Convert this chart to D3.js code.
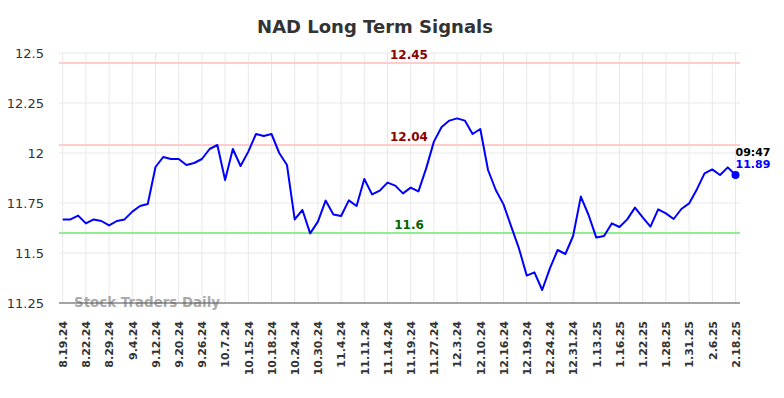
<!DOCTYPE html>
<html>
<head>
<meta charset="utf-8">
<script src="https://cdn.jsdelivr.net/npm/d3@7"></script>
<style>
	body { margin: 0; background: #fff; }
	text { font-family: "DejaVu Sans", sans-serif; }
</style>
</head>
<body>
<div id="chart"></div>
<script>
// tick labels, one every third point
const tickLabels = ['8.19.24', '8.22.24', '8.29.24', '9.4.24', '9.12.24', '9.20.24', '9.26.24', '10.7.24',
	'10.15.24', '10.18.24', '10.24.24', '10.30.24', '11.4.24', '11.11.24', '11.14.24', '11.19.24',
	'11.27.24', '12.3.24', '12.10.24', '12.16.24', '12.19.24', '12.24.24', '12.31.24', '1.13.25',
	'1.16.25', '1.22.25', '1.28.25', '1.31.25', '2.6.25', '2.18.25']

const prices = [11.668, 11.668, 11.687, 11.648, 11.668, 11.66, 11.638, 11.66, 11.668, 11.707,
	11.735, 11.745, 11.93, 11.98, 11.97, 11.97, 11.94, 11.95, 11.97, 12.02,
	12.04, 11.865, 12.02, 11.935, 12.007, 12.095, 12.085, 12.095, 12.0, 11.94,
	11.668, 11.715, 11.598, 11.657, 11.762, 11.693, 11.685, 11.763, 11.735, 11.87,
	11.793, 11.812, 11.852, 11.837, 11.798, 11.827, 11.808, 11.923, 12.057, 12.13,
	12.162, 12.173, 12.162, 12.095, 12.12, 11.915, 11.815, 11.743, 11.632, 11.523,
	11.387, 11.403, 11.315, 11.423, 11.515, 11.495, 11.585, 11.782, 11.69, 11.577,
	11.585, 11.648, 11.63, 11.668, 11.727, 11.678, 11.632, 11.718, 11.698, 11.67,
	11.72, 11.748, 11.818, 11.898, 11.918, 11.89, 11.928, 11.89]

const yTicks = [11.25, 11.5, 11.75, 12, 12.25, 12.5]
const signalLevels = [12.45, 12.04, 11.6]
const signalKinds = ['high', 'high', 'low']
const lastTime = '09:47'

const width = 784, height = 398
const m = { left: 59, right: 740, top: 53, bottom: 303 }

const svg = d3.select('#chart').append('svg')
	.attr('width', width)
	.attr('height', height)

const x = d3.scaleLinear()
	.domain([0, prices.length - 1])
	.range([62.7, 735.5])
const y = d3.scaleLinear()
	.domain([11.25, 12.5])
	.range([m.bottom, m.top])

const tickIdx = tickLabels.map((d, i) => i * 3)

// grid
svg.append('g')
	.selectAll('line')
	.data(tickIdx)
	.enter().append('line')
		.attr('x1', (d) => x(d))
		.attr('x2', (d) => x(d))
		.attr('y1', m.top)
		.attr('y2', m.bottom)
		.attr('stroke', '#e8e8e8')
svg.append('g')
	.selectAll('line')
	.data(yTicks)
	.enter().append('line')
		.attr('x1', m.left)
		.attr('x2', m.right)
		.attr('y1', (d) => y(d))
		.attr('y2', (d) => y(d))
		.attr('stroke', '#e8e8e8')

// y axis labels
const yAxis = svg.append('g')
	.attr('transform', 'translate(' + m.left + ',0)')
	.call(d3.axisLeft(y).tickValues(yTicks).tickSize(0).tickPadding(15).tickFormat(d3.format('')))
yAxis.select('.domain').remove()
yAxis.selectAll('text')
	.attr('font-size', '13px')
	.attr('fill', '#333')
	.style('font-family', '"DejaVu Sans", sans-serif')

// x axis labels
const xAxis = svg.append('g')
	.attr('transform', 'translate(0,' + m.bottom + ')')
	.call(d3.axisBottom(x).tickValues(tickIdx).tickSize(0).tickFormat((d, i) => tickLabels[i]))
xAxis.select('.domain').remove()
xAxis.selectAll('text')
	.attr('transform', 'rotate(-90)')
	.attr('text-anchor', 'end')
	.attr('x', -18)
	.attr('y', 0)
	.attr('dy', '0.35em')
	.attr('font-size', '11px')
	.attr('font-weight', 'bold')
	.attr('fill', '#333')
	.style('font-family', '"DejaVu Sans", sans-serif')

// signal lines
svg.append('g')
	.selectAll('line')
	.data(signalLevels)
	.enter().append('line')
		.attr('x1', m.left)
		.attr('x2', m.right)
		.attr('y1', (d) => y(d))
		.attr('y2', (d) => y(d))
		.attr('stroke', (d, i) => signalKinds[i] === 'high' ? '#ffcccc' : '#90ee90')
		.attr('stroke-width', 2)
svg.append('g')
	.selectAll('text')
	.data(signalLevels)
	.enter().append('text')
		.text((d) => d)
		.attr('x', 409)
		.attr('y', (d) => y(d) - 4)
		.attr('text-anchor', 'middle')
		.attr('font-size', '12px')
		.attr('font-weight', 'bold')
		.attr('fill', (d, i) => signalKinds[i] === 'high' ? '#8b0000' : '#006400')

// watermark
svg.append('text')
	.text('Stock Traders Daily')
	.attr('x', 74)
	.attr('y', 307)
	.attr('font-size', '13.4px')
	.attr('font-weight', 'bold')
	.attr('fill', '#aaa')

// bottom axis line
svg.append('line')
	.attr('x1', m.left)
	.attr('x2', m.right)
	.attr('y1', m.bottom)
	.attr('y2', m.bottom)
	.attr('stroke', '#555')
	.attr('stroke-width', 1)

// price line
svg.append('path')
	.datum(prices)
	.attr('fill', 'none')
	.attr('stroke', '#0000ff')
	.attr('stroke-width', 2)
	.attr('stroke-linejoin', 'round')
	.attr('d', d3.line().x((d, i) => x(i)).y((d) => y(d)))

const last = prices.length - 1
svg.append('circle')
	.attr('cx', x(last))
	.attr('cy', y(prices[last]))
	.attr('r', 4)
	.attr('fill', '#0000ff')

svg.append('text')
	.text(lastTime)
	.attr('x', x(last))
	.attr('y', y(prices[last]) - 19)
	.attr('font-size', '11px')
	.attr('font-weight', 'bold')
	.attr('fill', '#000')
svg.append('text')
	.text(prices[last])
	.attr('x', x(last))
	.attr('y', y(prices[last]) - 7)
	.attr('font-size', '11px')
	.attr('font-weight', 'bold')
	.attr('fill', '#0000ff')

// title
svg.append('text')
	.text('NAD Long Term Signals')
	.attr('x', 375)
	.attr('y', 33)
	.attr('text-anchor', 'middle')
	.attr('font-size', '18px')
	.attr('font-weight', 'bold')
	.attr('fill', '#333')
</script>
</body>
</html>
